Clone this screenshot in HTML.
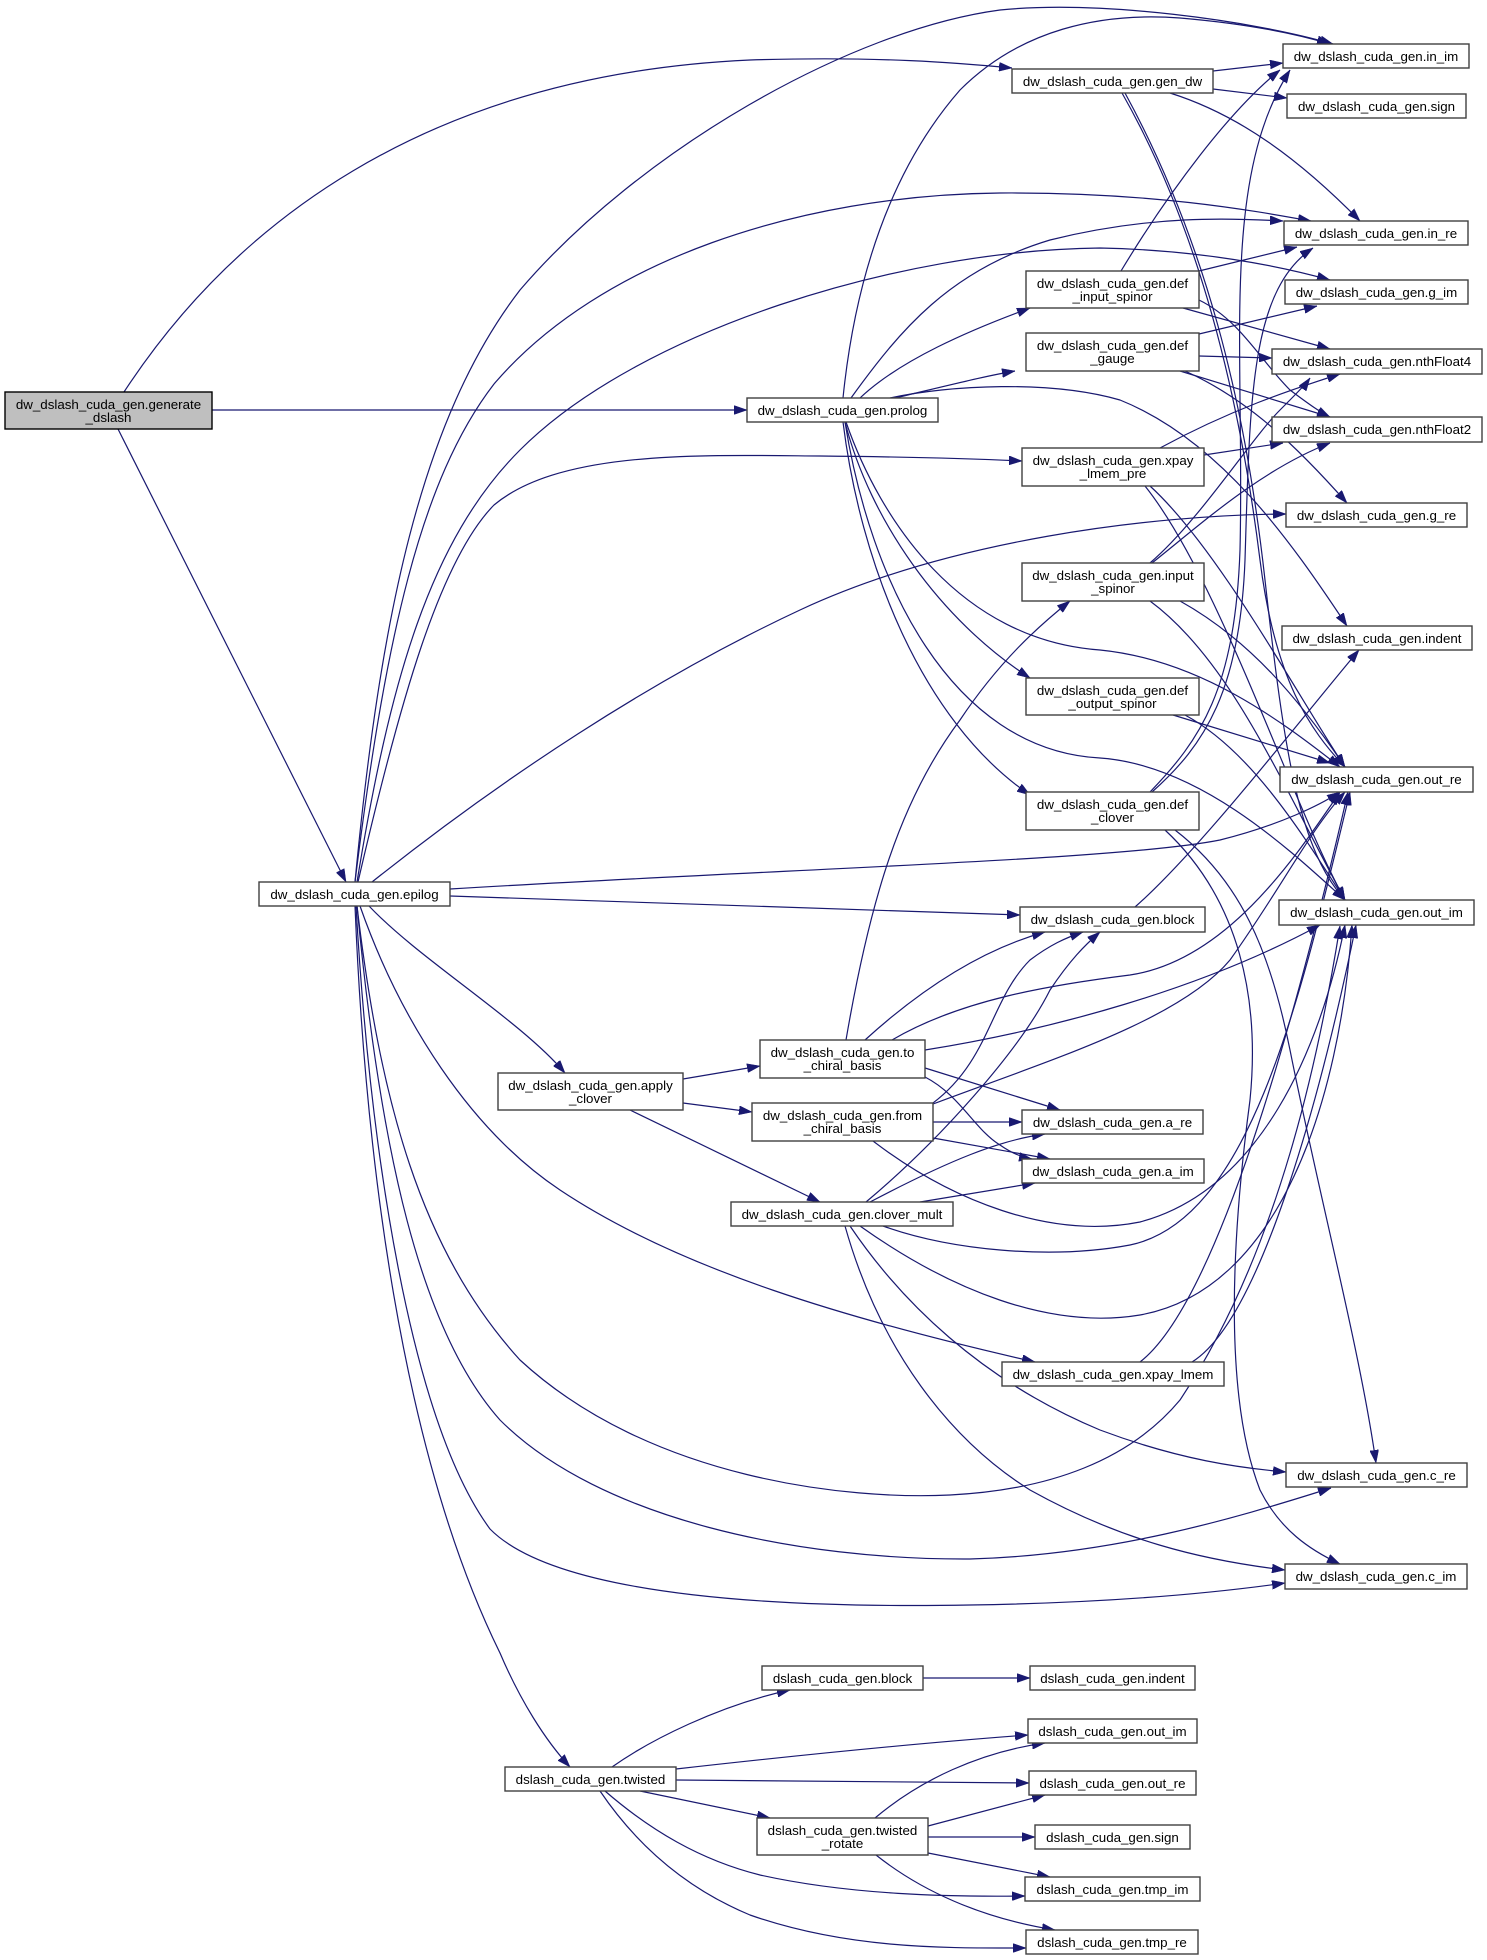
<!DOCTYPE html>
<html>
<head>
<meta charset="utf-8">
<style>
  html, body { margin:0; padding:0; background:#ffffff; }
  svg { display:block; }
  text { font-family:"Liberation Sans", Arial, sans-serif; font-size:13.33px; fill:#000; text-anchor:middle; }
  .e { fill:none; stroke:#191970; stroke-width:1.2; marker-end:url(#ah); }
  .n { fill:#ffffff; stroke:#404040; stroke-width:1.4; }
</style>
</head>
<body>
<svg width="1487" height="1960" viewBox="0 0 1487 1960" xmlns="http://www.w3.org/2000/svg">
<defs>
  <marker id="ah" markerWidth="13" markerHeight="9" refX="13" refY="4.5" orient="auto" markerUnits="userSpaceOnUse">
    <path d="M0,0 L13,4.5 L0,9 z" fill="#191970" stroke="#191970" stroke-width="0.5"/>
  </marker>
</defs>
<rect x="0" y="0" width="1487" height="1960" fill="#ffffff"/>

<!-- generate_dslash edges -->
<path class="e" d="M212,410 L747,410"/>
<path class="e" d="M124,392 C230,230 420,75 750,60 C880,56 960,63 1012,68"/>
<path class="e" d="M118,429 L346,882"/>

<!-- epilog edges -->
<path class="e" d="M355,882 C380,620 420,420 520,290 C640,150 850,30 1000,10 C1100,0 1250,20 1333,44"/>
<path class="e" d="M355,882 C385,640 420,480 494,384 C600,260 800,195 1000,193 C1150,192 1250,210 1311,221"/>
<path class="e" d="M357,882 C390,680 430,540 520,450 C640,330 900,250 1100,248 C1200,250 1280,266 1330,280"/>
<path class="e" d="M358,882 C400,700 440,560 494,505 C560,450 700,455 820,456 C920,457 980,459 1022,461"/>
<path class="e" d="M372,882 C500,780 650,680 800,610 C950,540 1150,515 1286,514"/>
<path class="e" d="M450,889 C800,868 1120,860 1220,840 C1280,825 1320,805 1340,792"/>
<path class="e" d="M450,896 L1020,915"/>
<path class="e" d="M369,906 C420,960 520,1020 565,1073"/>
<path class="e" d="M360,906 C400,1020 470,1130 560,1190 C680,1270 850,1320 1035,1362"/>
<path class="e" d="M357,906 C380,1100 420,1250 520,1360 C650,1480 850,1500 950,1495 C1050,1490 1130,1460 1180,1400 C1280,1250 1320,1050 1340,926"/>
<path class="e" d="M357,906 C380,1150 420,1330 500,1420 C600,1520 800,1560 970,1559 C1110,1555 1230,1520 1331,1488"/>
<path class="e" d="M356,906 C370,1150 410,1420 490,1529 C560,1600 800,1608 970,1605 C1100,1603 1200,1595 1285,1583"/>
<path class="e" d="M355,906 C365,1150 400,1450 500,1653 C520,1700 545,1740 570,1767"/>

<!-- prolog edges -->
<path class="e" d="M843,398 C855,280 890,170 960,90 C1020,30 1100,12 1180,18 C1250,24 1300,35 1330,44"/>
<path class="e" d="M851,398 C900,330 950,270 1050,240 C1150,215 1230,218 1283,221"/>
<path class="e" d="M860,398 C900,360 970,330 1030,308"/>
<path class="e" d="M895,398 C950,385 990,375 1015,371"/>
<path class="e" d="M890,398 C950,385 1050,380 1120,400 C1220,440 1290,540 1347,626"/>
<path class="e" d="M845,422 C870,520 940,620 1030,678"/>
<path class="e" d="M843,422 C860,560 920,720 1030,795"/>
<path class="e" d="M846,422 C880,520 960,640 1100,650 C1200,660 1280,720 1340,767"/>
<path class="e" d="M845,422 C870,580 950,750 1100,758 C1200,765 1290,850 1345,900"/>

<!-- gen_dw edges -->
<path class="e" d="M1213,71 L1283,63"/>
<path class="e" d="M1213,89 L1287,98"/>
<path class="e" d="M1170,93 C1240,115 1300,160 1360,221"/>
<path class="e" d="M1122,93 C1200,230 1240,400 1260,560 C1275,680 1310,730 1345,767"/>
<path class="e" d="M1125,93 C1205,240 1245,400 1265,580 C1285,760 1300,850 1345,900"/>

<!-- def_input_spinor edges -->
<path class="e" d="M1121,271 C1170,190 1230,110 1280,70"/>
<path class="e" d="M1199,271 L1297,247"/>
<path class="e" d="M1183,308 L1330,349"/>
<path class="e" d="M1199,300 C1240,320 1260,360 1290,390 C1310,405 1320,412 1330,417"/>

<!-- def_gauge edges -->
<path class="e" d="M1199,334 L1317,306"/>
<path class="e" d="M1199,356 L1272,358"/>
<path class="e" d="M1180,371 L1330,417"/>
<path class="e" d="M1185,371 C1250,400 1300,450 1347,503"/>

<!-- xpay_lmem_pre edges -->
<path class="e" d="M1160,448 C1230,410 1290,390 1340,374"/>
<path class="e" d="M1204,455 L1283,443"/>
<path class="e" d="M1150,486 C1220,550 1300,700 1345,767"/>
<path class="e" d="M1145,486 C1220,580 1290,800 1345,900"/>

<!-- input_spinor edges -->
<path class="e" d="M1150,563 C1200,520 1250,440 1280,410 C1295,395 1305,385 1310,378"/>
<path class="e" d="M1152,563 C1200,525 1260,470 1330,443"/>
<path class="e" d="M1180,601 C1250,640 1300,700 1345,767"/>
<path class="e" d="M1150,601 C1230,660 1280,780 1345,900"/>

<!-- def_output_spinor edges -->
<path class="e" d="M1173,715 L1330,763"/>
<path class="e" d="M1185,715 C1250,750 1300,830 1345,900"/>

<!-- def_clover edges -->
<path class="e" d="M1150,792 C1200,740 1235,690 1240,550 C1245,350 1220,180 1290,70"/>
<path class="e" d="M1152,792 C1205,745 1240,690 1245,560 C1250,400 1250,290 1313,248"/>
<path class="e" d="M1175,830 C1240,880 1270,950 1290,1050 C1320,1200 1360,1350 1376,1463"/>
<path class="e" d="M1165,830 C1240,900 1260,1000 1250,1100 C1230,1250 1225,1400 1260,1490 C1280,1530 1310,1550 1340,1564"/>

<!-- block -> indent -->
<path class="e" d="M1135,907 C1200,850 1300,720 1359,650"/>

<!-- to_chiral_basis edges -->
<path class="e" d="M846,1040 C870,900 900,800 960,720 C1000,660 1040,625 1070,601"/>
<path class="e" d="M865,1040 C920,990 980,950 1045,932"/>
<path class="e" d="M892,1040 C960,1000 1050,985 1130,975 C1230,960 1300,850 1340,792"/>
<path class="e" d="M925,1050 C1050,1030 1200,990 1320,925"/>
<path class="e" d="M925,1068 L1060,1110"/>
<path class="e" d="M925,1077 C960,1095 975,1130 1000,1145 C1010,1152 1020,1157 1032,1159"/>

<!-- from_chiral_basis edges -->
<path class="e" d="M933,1122 L1022,1122"/>
<path class="e" d="M933,1138 L1050,1159"/>
<path class="e" d="M933,1103 C990,1060 990,1000 1030,960 C1050,945 1065,938 1083,932"/>
<path class="e" d="M933,1104 C1050,1060 1180,1020 1230,960 C1280,890 1310,830 1345,792"/>
<path class="e" d="M873,1141 C950,1200 1050,1240 1140,1222 C1260,1190 1320,1050 1345,925"/>

<!-- clover_mult edges -->
<path class="e" d="M866,1202 C940,1140 1020,1050 1050,990 C1070,960 1085,945 1100,932"/>
<path class="e" d="M870,1202 C950,1160 1000,1140 1045,1134"/>
<path class="e" d="M920,1202 L1035,1183"/>
<path class="e" d="M883,1226 C950,1250 1050,1260 1130,1245 C1250,1220 1300,1000 1350,792"/>
<path class="e" d="M860,1226 C950,1290 1050,1330 1140,1315 C1280,1290 1340,1100 1352,925"/>
<path class="e" d="M850,1226 C900,1300 980,1380 1100,1430 C1180,1460 1240,1468 1286,1472"/>
<path class="e" d="M845,1226 C880,1350 950,1440 1030,1490 C1120,1540 1200,1560 1285,1570"/>

<!-- xpay_lmem edges -->
<path class="e" d="M1140,1362 C1220,1300 1300,1000 1348,792"/>
<path class="e" d="M1192,1362 C1260,1320 1320,1100 1356,925"/>

<!-- apply_clover edges -->
<path class="e" d="M683,1079 L760,1066"/>
<path class="e" d="M683,1103 L752,1112"/>
<path class="e" d="M630,1110 L820,1202"/>

<!-- twisted edges -->
<path class="e" d="M612,1767 C650,1740 720,1705 790,1690"/>
<path class="e" d="M676,1769 C800,1755 920,1743 1028,1735"/>
<path class="e" d="M676,1780 C800,1781 920,1782 1029,1783"/>
<path class="e" d="M640,1791 L770,1818"/>
<path class="e" d="M605,1791 C650,1830 700,1860 760,1875 C850,1895 950,1897 1025,1896"/>
<path class="e" d="M600,1791 C640,1850 690,1890 750,1915 C850,1950 950,1948 1026,1948"/>

<!-- twisted_rotate edges -->
<path class="e" d="M875,1818 C920,1780 980,1752 1045,1743"/>
<path class="e" d="M928,1826 L1045,1795"/>
<path class="e" d="M928,1837 L1035,1837"/>
<path class="e" d="M928,1853 L1050,1877"/>
<path class="e" d="M876,1855 C920,1890 980,1918 1055,1930"/>

<!-- dslash block -> indent -->
<path class="e" d="M923,1678 L1030,1678"/>

<!-- NODES -->
<rect x="5" y="392" width="207" height="37" fill="#bfbfbf" stroke="#000" stroke-width="1.4"/>
<text x="108.5" y="409">dw_dslash_cuda_gen.generate</text>
<text x="108.5" y="422">_dslash</text>

<rect class="n" x="747" y="398" width="191" height="24"/>
<text x="842.5" y="415">dw_dslash_cuda_gen.prolog</text>

<rect class="n" x="259" y="882" width="191" height="24"/>
<text x="354.5" y="899">dw_dslash_cuda_gen.epilog</text>

<rect class="n" x="1012" y="69" width="201" height="24"/>
<text x="1112.5" y="86">dw_dslash_cuda_gen.gen_dw</text>

<rect class="n" x="1283" y="44" width="186" height="24"/>
<text x="1376" y="61">dw_dslash_cuda_gen.in_im</text>

<rect class="n" x="1287" y="94" width="179" height="24"/>
<text x="1376.5" y="111">dw_dslash_cuda_gen.sign</text>

<rect class="n" x="1284" y="221" width="184" height="24"/>
<text x="1376" y="238">dw_dslash_cuda_gen.in_re</text>

<rect class="n" x="1026" y="271" width="173" height="37"/>
<text x="1112.5" y="288">dw_dslash_cuda_gen.def</text>
<text x="1112.5" y="301">_input_spinor</text>

<rect class="n" x="1285" y="280" width="183" height="24"/>
<text x="1376.5" y="297">dw_dslash_cuda_gen.g_im</text>

<rect class="n" x="1026" y="333" width="173" height="38"/>
<text x="1112.5" y="350">dw_dslash_cuda_gen.def</text>
<text x="1112.5" y="363">_gauge</text>

<rect class="n" x="1272" y="349" width="210" height="25"/>
<text x="1377" y="366">dw_dslash_cuda_gen.nthFloat4</text>

<rect class="n" x="1272" y="417" width="210" height="25"/>
<text x="1377" y="434">dw_dslash_cuda_gen.nthFloat2</text>

<rect class="n" x="1022" y="448" width="182" height="38"/>
<text x="1113" y="465">dw_dslash_cuda_gen.xpay</text>
<text x="1113" y="478">_lmem_pre</text>

<rect class="n" x="1286" y="503" width="181" height="24"/>
<text x="1376.5" y="520">dw_dslash_cuda_gen.g_re</text>

<rect class="n" x="1022" y="563" width="182" height="38"/>
<text x="1113" y="580">dw_dslash_cuda_gen.input</text>
<text x="1113" y="593">_spinor</text>

<rect class="n" x="1282" y="626" width="190" height="24"/>
<text x="1377" y="643">dw_dslash_cuda_gen.indent</text>

<rect class="n" x="1026" y="678" width="173" height="37"/>
<text x="1112.5" y="695">dw_dslash_cuda_gen.def</text>
<text x="1112.5" y="708">_output_spinor</text>

<rect class="n" x="1280" y="767" width="193" height="25"/>
<text x="1376.5" y="784">dw_dslash_cuda_gen.out_re</text>

<rect class="n" x="1026" y="792" width="173" height="38"/>
<text x="1112.5" y="809">dw_dslash_cuda_gen.def</text>
<text x="1112.5" y="822">_clover</text>

<rect class="n" x="1020" y="907" width="185" height="25"/>
<text x="1112.5" y="924">dw_dslash_cuda_gen.block</text>

<rect class="n" x="1279" y="900" width="195" height="25"/>
<text x="1376.5" y="917">dw_dslash_cuda_gen.out_im</text>

<rect class="n" x="760" y="1040" width="165" height="38"/>
<text x="842.5" y="1057">dw_dslash_cuda_gen.to</text>
<text x="842.5" y="1070">_chiral_basis</text>

<rect class="n" x="498" y="1073" width="185" height="37"/>
<text x="590.5" y="1090">dw_dslash_cuda_gen.apply</text>
<text x="590.5" y="1103">_clover</text>

<rect class="n" x="752" y="1103" width="181" height="38"/>
<text x="842.5" y="1120">dw_dslash_cuda_gen.from</text>
<text x="842.5" y="1133">_chiral_basis</text>

<rect class="n" x="1022" y="1110" width="181" height="24"/>
<text x="1112.5" y="1127">dw_dslash_cuda_gen.a_re</text>

<rect class="n" x="1022" y="1159" width="182" height="24"/>
<text x="1113" y="1176">dw_dslash_cuda_gen.a_im</text>

<rect class="n" x="731" y="1202" width="222" height="24"/>
<text x="842" y="1219">dw_dslash_cuda_gen.clover_mult</text>

<rect class="n" x="1002" y="1362" width="222" height="24"/>
<text x="1113" y="1379">dw_dslash_cuda_gen.xpay_lmem</text>

<rect class="n" x="1286" y="1463" width="181" height="24"/>
<text x="1376.5" y="1480">dw_dslash_cuda_gen.c_re</text>

<rect class="n" x="1285" y="1564" width="182" height="25"/>
<text x="1376" y="1581">dw_dslash_cuda_gen.c_im</text>

<rect class="n" x="762" y="1666" width="161" height="24"/>
<text x="842.5" y="1683">dslash_cuda_gen.block</text>

<rect class="n" x="1030" y="1666" width="165" height="24"/>
<text x="1112.5" y="1683">dslash_cuda_gen.indent</text>

<rect class="n" x="505" y="1767" width="171" height="24"/>
<text x="590.5" y="1784">dslash_cuda_gen.twisted</text>

<rect class="n" x="1028" y="1719" width="169" height="24"/>
<text x="1112.5" y="1736">dslash_cuda_gen.out_im</text>

<rect class="n" x="1029" y="1771" width="167" height="24"/>
<text x="1112.5" y="1788">dslash_cuda_gen.out_re</text>

<rect class="n" x="757" y="1818" width="171" height="37"/>
<text x="842.5" y="1835">dslash_cuda_gen.twisted</text>
<text x="842.5" y="1848">_rotate</text>

<rect class="n" x="1035" y="1825" width="155" height="24"/>
<text x="1112.5" y="1842">dslash_cuda_gen.sign</text>

<rect class="n" x="1025" y="1877" width="175" height="24"/>
<text x="1112.5" y="1894">dslash_cuda_gen.tmp_im</text>

<rect class="n" x="1026" y="1930" width="172" height="24"/>
<text x="1112" y="1947">dslash_cuda_gen.tmp_re</text>
</svg>
</body>
</html>
